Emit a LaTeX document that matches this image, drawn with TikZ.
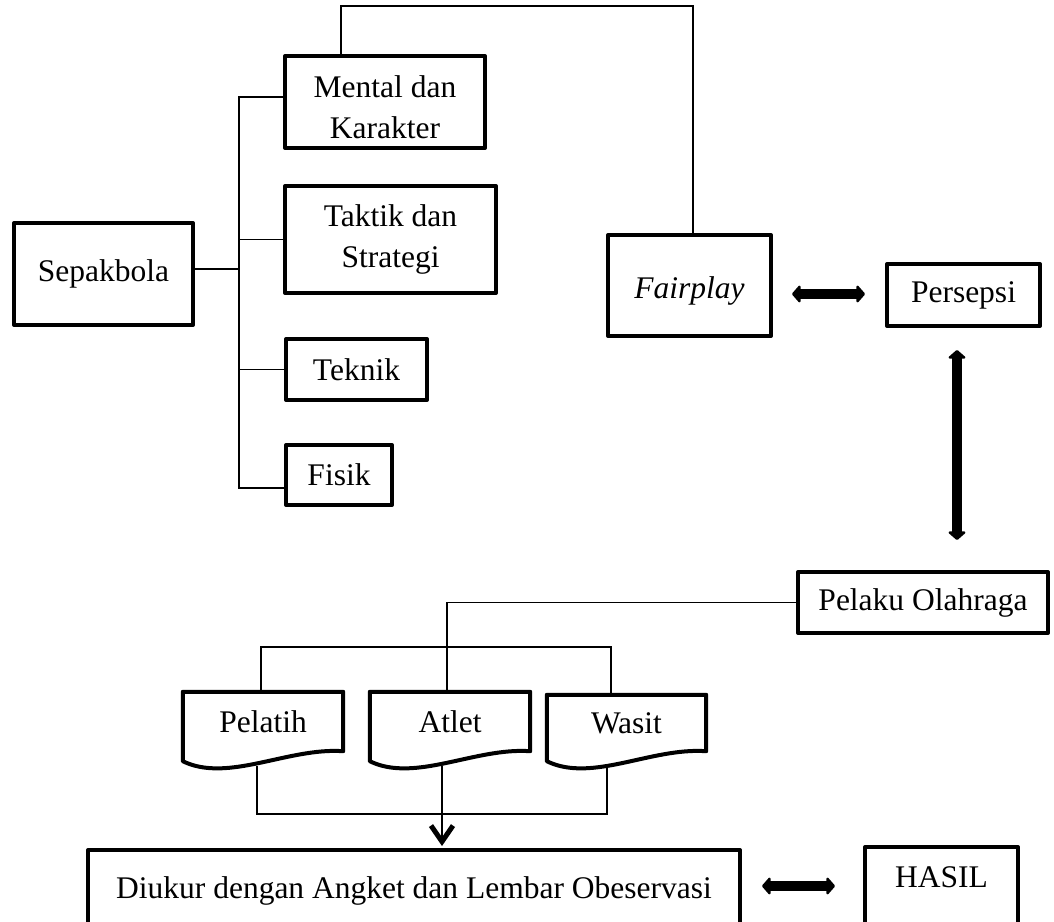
\documentclass[tikz,border=0pt]{standalone}
\usepackage{fontspec}
\setmainfont{Liberation Serif}
\usetikzlibrary{arrows.meta,calc}
\newcommand\fsz{\fontsize{31.5}{41}\selectfont}
\tikzset{
 box/.style={draw, line width=4pt, align=center, inner sep=0pt, font=\fsz, line join=round},
 txt/.style={align=center, inner sep=0pt, font=\fsz},
 conn/.style={line width=1.6pt},
 dbl/.style={line width=9.5pt, {Triangle[length=9pt,width=20pt,round]}-{Triangle[length=9pt,width=20pt,round]}},
 docline/.style={line width=4pt, line join=round},
}
\begin{document}
\begin{tikzpicture}[x=1pt,y=-1pt]
\useasboundingbox (0,0) rectangle (1054,921);
\clip (0,0) rectangle (1054,921);
% nodes
\node[box, minimum width=179pt, minimum height=102pt] (sep) at (103.5,274) {Sepakbola};
\node[box, minimum width=200pt, minimum height=92pt, text height=72.5pt, text depth=0pt] (ment) at (385,102) {Mental dan\\Karakter};
\node[box, minimum width=211pt, minimum height=107pt] (takt) at (390.5,239.5) {Taktik dan\\Strategi};
\node[box, minimum width=141pt, minimum height=61pt] (tekn) at (356.5,369.5) {Teknik};
\node[box, minimum width=106pt, minimum height=60pt] (fis) at (339,475) {Fisik};
\node[box, minimum width=163pt, minimum height=101pt, text height=33.5pt, text depth=6.8pt] (fair) at (689.5,285.5) {\itshape Fairplay};
\node[box, minimum width=153pt, minimum height=62pt] (pers) at (963.5,295) {Persepsi};
\node[box, minimum width=250pt, minimum height=61pt] (pel) at (923,602.5) {Pelaku Olahraga};
\node[txt, minimum width=160pt, minimum height=59pt] (pelt) at (263,721.5) {Pelatih};
\node[txt, minimum width=160pt, minimum height=59pt] (atl) at (450,721.5) {Atlet};
\node[txt, minimum width=159pt, minimum height=56pt] (was) at (626.5,723) {Wasit};
\node[box, minimum width=652pt, minimum height=0pt, text height=48pt, text depth=34pt, anchor=north] (diu) at (414,848) {Diukur dengan Angket dan Lembar Obeservasi};
\node[box, minimum width=153pt, minimum height=0pt, text height=40.5pt, text depth=44.5pt, anchor=north] (has) at (941.5,845) {HASIL};
% document shapes
\foreach \n in {pelt,atl,was} {
  \draw[docline] (\n.north west) -- (\n.north east) -- (\n.south east)
    .. controls +(-55,-4) and +(45,22) .. ($(\n.south west)+(0,10)$) -- cycle;
}
% left tree
\coordinate (tr) at (239,0);
\draw[conn] ($(ment.west)+(0,-5)$) -- ($(tr |- ment.west)+(0,-5)$) -- ($(tr |- fis.west)+(0,13)$) -- ($(fis.west)+(0,13)$);
\draw[conn] (takt.west) -- (tr |- takt.west);
\draw[conn] (tekn.west) -- (tr |- tekn.west);
\draw[conn] ($(sep.east)+(0,-5)$) -- ($(tr |- sep.east)+(0,-5)$);
% top link
\draw[conn] ($(ment.north)+(-44,0)$) -- ($(ment.north)+(-44,-48)$) -| ($(fair.north)+(3.5,0)$);
% fairplay <-> persepsi
\coordinate (fp) at (fair.east |- pers.west);
\draw[dbl] ($(fp)+(19,-1)$) -- ($(pers.west)+(-20,-1)$);
% persepsi <-> pelaku
\coordinate (ax) at (957,0);
\draw[dbl] ($(ax |- pers.south)+(0,22)$) -- ($(ax |- pel.north)+(0,-30)$);
% pelaku -> atlet
\draw[conn] (pel.west) -| ($(atl.north)+(-3,0)$);
% pelatih - wasit bar
\draw[conn] ($(pelt.north)+(-2,0)$) -- ($(pelt.north)+(-2,-45)$) -| ($(was.north)+(-15.5,0)$);
% bottom bar
\draw[conn] ($(pelt.south)+(-6,15)$) -- ($(pelt.south)+(-6,63)$) -| ($(was.south)+(-19.5,17)$);
\coordinate (ad) at ($(atl.south)+(-8,15)$);
\draw[conn, -{Straight Barb[length=16pt,width=22pt,line width=5pt]}] (ad) -- ($(ad |- diu.north)+(0,-2)$);
% diukur <-> hasil
\coordinate (dh) at ($(diu.north east)+(0,38)$);
\draw[dbl] ($(dh)+(20,0)$) -- ($(dh -| has.west)+(-28,0)$);
\end{tikzpicture}
\end{document}
